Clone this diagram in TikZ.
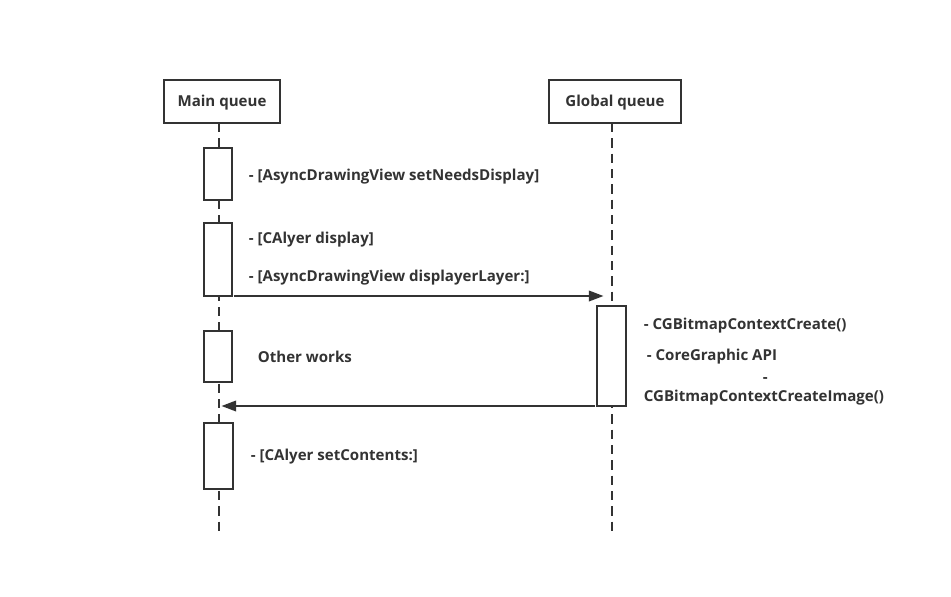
\documentclass[tikz,border=0pt]{standalone}
\usepackage{fontspec}
\setmainfont{Open Sans}
\usetikzlibrary{arrows.meta}
\definecolor{ink}{HTML}{333333}
\begin{document}
\begin{tikzpicture}[x=0.75pt,y=-0.75pt,
  line width=1.3pt, draw=ink,
  head/.style={draw=ink, line width=1.3pt, fill=white, minimum height=32pt, inner sep=0pt, font=\bfseries\fontsize{11.3}{13}\selectfont, text=ink},
  act/.style={draw=ink, line width=1.3pt, fill=white},
  life/.style={draw=ink, line width=1.3pt, dash pattern=on 7pt off 4.5pt},
  msg/.style={draw=ink, line width=1.3pt, -{Triangle[length=11pt,width=8pt]}},
  lbl/.style={anchor=west, inner sep=0pt, font=\bfseries\fontsize{11.3}{13}\selectfont, text=ink}]
\useasboundingbox (0,0) rectangle (951,597);
\fill[white] (0,0) rectangle (951,597);
% lifelines
\coordinate (mtop) at (219,123);
\coordinate (mbot) at (219,533);
\coordinate (gtop) at (612,123);
\coordinate (gbot) at (612,533);
\draw[life] (mtop) -- (mbot);
\draw[life] (gtop) -- (gbot);
% heads
\node[head, minimum width=87pt, minimum height=32pt] (main) at (222,101.5) {};
\node[head, minimum width=99pt, minimum height=32pt] (glob) at (615,101.5) {};
\node[head, draw=none, fill=none, minimum height=0pt, minimum width=0pt] (mainl) at (222,103) {Main queue};
\node[head, draw=none, fill=none, minimum height=0pt, minimum width=0pt] (globl) at (615,103) {Global queue};
% activations
\draw[act] (204,148) rectangle (232,200);
\draw[act] (204,223) rectangle (232,296);
\draw[act] (204,331) rectangle (232,382);
\draw[act] (204,423) rectangle (233,489);
\draw[act] (597,306) rectangle (626,406);
\node[inner sep=0pt] (a2) at (232,296) {};
\node[inner sep=0pt] (g1) at (605,296) {};
\node[inner sep=0pt] (g2) at (597,406) {};
\node[inner sep=0pt] (m2) at (220,406) {};
\draw[msg] (a2) -- (g1);
\draw[msg] (g2) -- (m2);
% labels
\node[lbl] (t1) at (248,177) {- [AsyncDrawingView setNeedsDisplay]};
\node[lbl] (t2) at (248,240) {- [CAlyer display]};
\node[lbl] (t3) at (248,278) {- [AsyncDrawingView displayerLayer:]};
\node[lbl] (t4) at (257,357) {Other works};
\node[lbl] (t5) at (250,457) {- [CAlyer setContents:]};
\node[lbl] (t6) at (643,326) {- CGBitmapContextCreate()};
\node[lbl] (t7) at (646,357) {- CoreGraphic API};
\node[lbl] (t8) at (762,380) {-};
\node[lbl] (t9) at (643,398) {CGBitmapContextCreateImage()};
\end{tikzpicture}
\end{document}
